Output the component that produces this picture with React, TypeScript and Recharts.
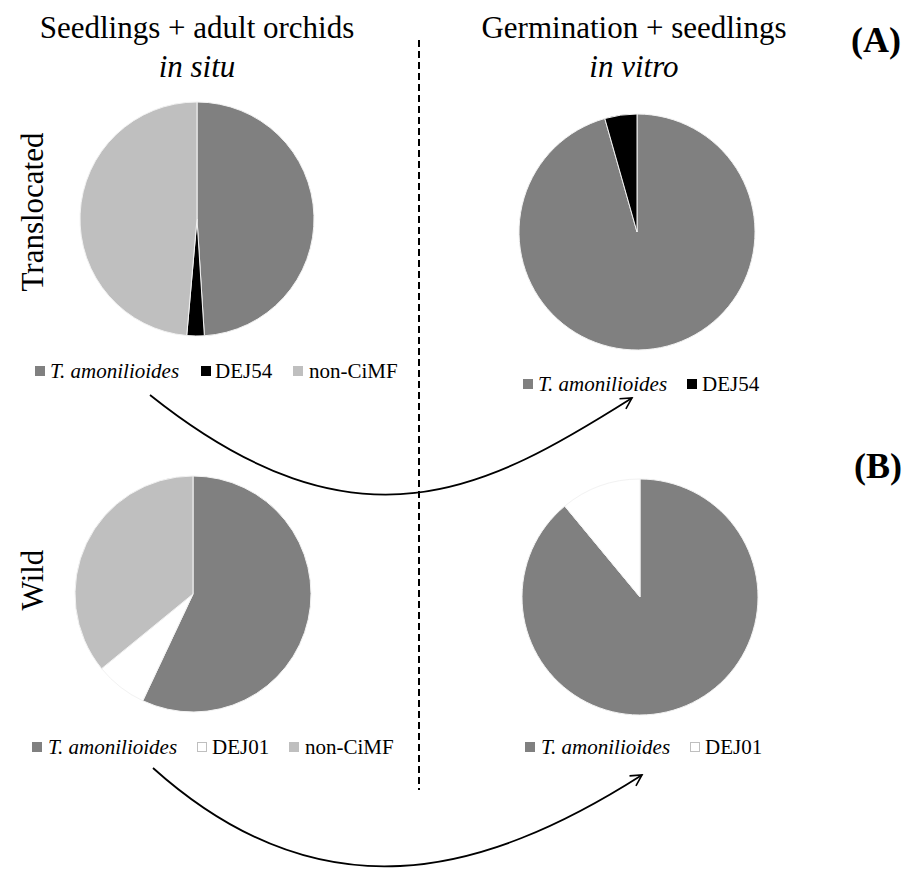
import React from "react";
import { PieChart, Pie, Cell } from "recharts";

const categoriesTL = ["T. amonilioides", "DEJ54", "non-CiMF"];
const valuesTL = [49, 2.4, 48.6];
const categoriesTR = ["T. amonilioides", "DEJ54"];
const valuesTR = [95.6, 4.4];
const categoriesBL = ["T. amonilioides", "DEJ01", "non-CiMF"];
const valuesBL = [57, 7.1, 35.9];
const categoriesBR = ["T. amonilioides", "DEJ01"];
const valuesBR = [89, 11];

const colorOf: Record<string, string> = {
  "T. amonilioides": "#808080",
  DEJ54: "#000000",
  DEJ01: "#ffffff",
  "non-CiMF": "#bfbfbf",
};

const toData = (cats: string[], vals: number[]) =>
  cats.map((name, i) => ({ name, value: vals[i] }));

const FONT = '"Liberation Serif", "Times New Roman", Times, serif';
const T = { fontFamily: FONT };

const pies = [
  { key: "tl", cats: categoriesTL, vals: valuesTL, cx: 197, cy: 219, r: 117 },
  { key: "tr", cats: categoriesTR, vals: valuesTR, cx: 637, cy: 232, r: 118 },
  { key: "bl", cats: categoriesBL, vals: valuesBL, cx: 193, cy: 594, r: 118 },
  { key: "br", cats: categoriesBR, vals: valuesBR, cx: 640, cy: 597, r: 118 },
];

const legends = [
  { cats: categoriesTL, y: 378, sq: [35, 201, 293], tx: [50, 215, 309] },
  { cats: categoriesTR, y: 391, sq: [523, 687], tx: [538, 702] },
  { cats: categoriesBL, y: 754, sq: [32, 197, 289], tx: [48, 212, 305] },
  { cats: categoriesBR, y: 754, sq: [525, 690], tx: [541, 705] },
];

export default function App() {
  return (
    <div
      style={{
        position: "absolute",
        left: 0,
        top: 0,
        width: 909,
        height: 869,
        background: "#fff",
        overflow: "hidden",
      }}
    >
      <PieChart
        width={909}
        height={869}
        margin={{ top: 0, right: 0, bottom: 0, left: 0 }}
        style={{ position: "absolute", left: 0, top: 0 }}
      >
        {pies.map((p) => (
          <Pie
            key={p.key}
            data={toData(p.cats, p.vals)}
            dataKey="value"
            nameKey="name"
            cx={p.cx}
            cy={p.cy}
            outerRadius={p.r}
            innerRadius={0}
            startAngle={90}
            endAngle={-270}
            stroke="#f2f2f2"
            strokeWidth={1}
            isAnimationActive={false}
            label={false}
            labelLine={false}
          >
            {p.cats.map((c) => (
              <Cell key={c} fill={colorOf[c]} />
            ))}
          </Pie>
        ))}
      </PieChart>
      <svg
        width={909}
        height={869}
        style={{ position: "absolute", left: 0, top: 0, pointerEvents: "none", fontFamily: FONT }}
      >
        <defs>
          <marker
            id="arrowhead"
            markerWidth="14"
            markerHeight="14"
            refX="12"
            refY="7"
            orient="auto"
            markerUnits="userSpaceOnUse"
          >
            <path d="M1,1 L12,7 L1,13" fill="none" stroke="#000" strokeWidth="1.6" />
          </marker>
        </defs>
        <text x={197} y={38} fontSize={31} textAnchor="middle" fill="#000" style={T}>
          Seedlings + adult orchids
        </text>
        <text x={197} y={77} fontSize={31} fontStyle="italic" textAnchor="middle" fill="#000" style={T}>
          in situ
        </text>
        <text x={634} y={38} fontSize={31} textAnchor="middle" fill="#000" style={T}>
          Germination + seedlings
        </text>
        <text x={634} y={77} fontSize={31} fontStyle="italic" textAnchor="middle" fill="#000" style={T}>
          in vitro
        </text>
        <text x={876} y={52} fontSize={36} fontWeight="bold" textAnchor="middle" fill="#000" style={T}>
          (A)
        </text>
        <text x={878} y={478} fontSize={36} fontWeight="bold" textAnchor="middle" fill="#000" style={T}>
          (B)
        </text>
        <text
          x={0}
          y={0}
          fontSize={31}
          textAnchor="middle"
          fill="#000"
          style={T}
          transform="translate(43,212) rotate(-90)"
        >
          Translocated
        </text>
        <text
          x={0}
          y={0}
          fontSize={31}
          textAnchor="middle"
          fill="#000"
          style={T}
          transform="translate(43,580) rotate(-90)"
        >
          Wild
        </text>
        <line x1={419} y1={40} x2={419} y2={790} stroke="#000" strokeWidth={2} strokeDasharray="7 4" />
        {legends.map((lg, li) => (
          <g key={li}>
            {lg.cats.map((c, i) => (
              <g key={c}>
                <rect
                  x={lg.sq[i] + 0.5}
                  y={lg.y - 11.5}
                  width={9}
                  height={9}
                  fill={colorOf[c]}
                  stroke={c === "DEJ01" ? "#bfbfbf" : colorOf[c]}
                  strokeWidth={1}
                />
                <text
                  x={lg.tx[i]}
                  y={lg.y}
                  fontSize={21}
                  fontStyle={c === "T. amonilioides" ? "italic" : "normal"}
                  fill="#000"
                  style={T}
                >
                  {c}
                </text>
              </g>
            ))}
          </g>
        ))}
        <path
          d="M150,395 C358,561 488,489 632,398"
          fill="none"
          stroke="#000"
          strokeWidth={1.8}
          markerEnd="url(#arrowhead)"
        />
        <path
          d="M153,768 C320,918 482,877 642,775"
          fill="none"
          stroke="#000"
          strokeWidth={1.8}
          markerEnd="url(#arrowhead)"
        />
      </svg>
    </div>
  );
}
